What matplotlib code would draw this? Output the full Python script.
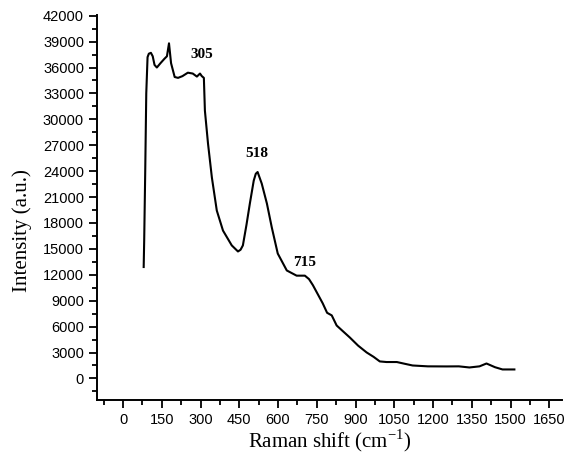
import numpy as np
import matplotlib.pyplot as plt
from matplotlib.ticker import MultipleLocator

# Raman spectrum
shift = [80, 82, 86, 90, 95, 100, 108, 115, 122, 131,
         145, 160, 170, 178, 186, 200, 213, 230, 251, 270,
         286, 298, 305, 313, 317, 329, 344, 363, 387, 421,
         445, 455, 464, 478, 491, 506, 514, 521, 537, 557,
         576, 599, 634, 672, 704, 720, 735, 773, 790, 808,
         827, 850, 878, 910, 943, 970, 994, 1020, 1060, 1090,
         1121, 1180, 1252, 1300, 1341, 1380, 1407, 1440, 1469, 1515]
intensity = [12900, 16000, 24000, 33000, 37200, 37600, 37700, 37300, 36300, 36000,
             36500, 37000, 37300, 38800, 36500, 34900, 34800, 35000, 35400, 35300,
             34950, 35300, 35000, 34800, 31000, 27200, 23260, 19440, 17120, 15400,
             14700, 14900, 15400, 17800, 20250, 22900, 23700, 23900, 22560, 20250,
             17470, 14460, 12500, 11900, 11900, 11500, 10800, 8700, 7600, 7300,
             6130, 5500, 4740, 3800, 3010, 2500, 1970, 1900, 1900, 1700,
             1500, 1400, 1390, 1400, 1270, 1400, 1730, 1300, 1040, 1040]

peak_labels = ["305", "518", "715"]
peak_pos = [(305, 36800), (518, 25300), (704, 12700)]

fig = plt.figure(figsize=(5.65, 4.63), dpi=100)
ax = fig.add_axes([0.172, 0.136, 0.823, 0.832])

ax.plot(shift, intensity, color="black", lw=1.5)

for lab, (px, py) in zip(peak_labels, peak_pos):
    ax.text(px, py, lab, ha="center", va="bottom", fontsize=11,
            family="Liberation Serif", fontweight="bold")

ax.set_xlim(-100, 1700)
ax.set_ylim(-2500, 42100)
ax.xaxis.set_major_locator(MultipleLocator(150))
ax.xaxis.set_minor_locator(MultipleLocator(75))
ax.yaxis.set_major_locator(MultipleLocator(3000))
ax.yaxis.set_minor_locator(MultipleLocator(1500))

for s in ["top", "right"]:
    ax.spines[s].set_visible(False)
for s in ["left", "bottom"]:
    ax.spines[s].set_linewidth(1.4)

ax.tick_params(which="major", direction="out", length=6, width=1.3,
               labelsize=10.5, labelfontfamily="Liberation Sans")
ax.tick_params(which="minor", direction="out", length=3.5, width=1.3)

ax.set_xlabel("Raman shift (cm$^{\\mathregular{-1}}$)", family="Liberation Serif",
              fontsize=15, labelpad=0)
ax.set_ylabel("Intensity (a.u.)", family="Liberation Serif", fontsize=15)
ax.yaxis.set_label_coords(-0.14, 0.44)

fig.savefig("out.png", dpi=100)
